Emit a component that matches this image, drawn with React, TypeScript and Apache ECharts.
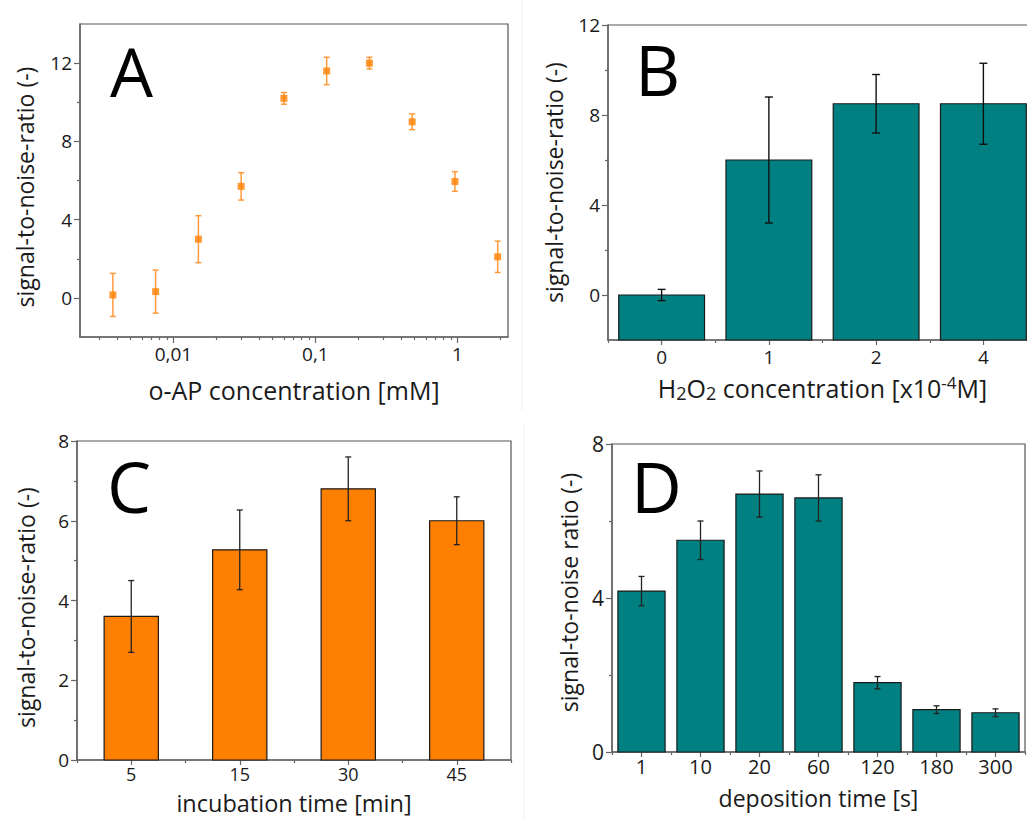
import React, { useEffect, useRef } from 'react';
import * as echarts from 'echarts';

// ---------- Panel A: o-AP concentration (log axis) ----------
const concA = [0.00375, 0.0075, 0.015, 0.03, 0.06, 0.12, 0.24, 0.48, 0.96, 1.92];
const snrA = [0.15, 0.32, 3.0, 5.7, 10.2, 11.6, 12.0, 9.0, 5.95, 2.1];
const errA = [1.1, 1.1, 1.2, 0.7, 0.3, 0.7, 0.3, 0.4, 0.5, 0.8];
const ticksAX = [0.01, 0.1, 1];
const minorTicksAX = [0.003, 0.004, 0.005, 0.006, 0.007, 0.008, 0.009, 0.02, 0.03, 0.04, 0.05, 0.06, 0.07, 0.08, 0.09, 0.2, 0.3, 0.4, 0.5, 0.6, 0.7, 0.8, 0.9, 2];
const ticksAY = [0, 4, 8, 12];
const minorTicksAY = [2, 6, 10];

// ---------- Panel B: H2O2 concentration ----------
const catB = ['0', '1', '2', '4'];
const snrB = [0, 6.0, 8.5, 8.5];
const errB = [0.25, 2.8, 1.3, 1.8];
const ticksBY = [0, 4, 8, 12];
const minorTicksBY = [2, 6, 10];

// ---------- Panel C: incubation time ----------
const catC = ['5', '15', '30', '45'];
const snrC = [3.6, 5.27, 6.8, 6.0];
const errC = [0.9, 1.0, 0.8, 0.6];

// ---------- Panel D: deposition time ----------
const catD = ['1', '10', '20', '60', '120', '180', '300'];
const snrD = [4.18, 5.5, 6.7, 6.6, 1.8, 1.1, 1.02];
const errD = [0.38, 0.5, 0.6, 0.6, 0.16, 0.1, 0.1];

const FONT = "'Open Sans', 'Noto Sans', sans-serif";
const ORANGE = '#FF8000';
const TEAL = '#008080';
const AXIS_COLOR = '#666';
const TEXT_COLOR = '#1a1a1a';

const yMinA = -2, yMaxA = 14;
const yMinB = -2, yMaxB = 12;
const yMinC = 0, yMaxC = 8;
const yMinD = 0, yMaxD = 8;

function axisLineStyle() {
  return { show: true, onZero: false, lineStyle: { color: AXIS_COLOR, width: 1.5 } };
}

function barSeries(xi: number, cats: string[], vals: number[], base: number, color: string, ratio: number) {
  return {
    type: 'custom',
    xAxisIndex: xi,
    yAxisIndex: xi,
    data: vals.map((v, i) => [i, v]),
    renderItem: (params: any, api: any) => {
      const idx = api.value(0);
      const v = api.value(1);
      const p0 = api.coord([idx, base]);
      const p1 = api.coord([idx, v]);
      const bw = api.size([1, 0])[0] * ratio;
      return {
        type: 'rect',
        shape: { x: p1[0] - bw / 2, y: p1[1], width: bw, height: p0[1] - p1[1] },
        style: { fill: color, stroke: '#1a1a1a', lineWidth: 1.2 },
      };
    },
    z: 2,
  };
}

function errSeries(xi: number, xs: any[], vals: number[], errs: number[], color: string, cap: number, width: number) {
  return {
    type: 'custom',
    xAxisIndex: xi,
    yAxisIndex: xi,
    data: vals.map((v, i) => [xs[i], v, errs[i]]),
    renderItem: (params: any, api: any) => {
      const x = api.value(0);
      const v = api.value(1);
      const e = api.value(2);
      const top = api.coord([x, v + e]);
      const bot = api.coord([x, v - e]);
      const st = { stroke: color, lineWidth: width };
      return {
        type: 'group',
        children: [
          { type: 'line', shape: { x1: top[0], y1: top[1], x2: bot[0], y2: bot[1] }, style: st },
          { type: 'line', shape: { x1: top[0] - cap / 2, y1: top[1], x2: top[0] + cap / 2, y2: top[1] }, style: st },
          { type: 'line', shape: { x1: bot[0] - cap / 2, y1: bot[1], x2: bot[0] + cap / 2, y2: bot[1] }, style: st },
        ],
      };
    },
    z: 3,
  };
}

function catXAxes(grid: number, cats: string[], fontSize: number, name: string, nameGap: number, extraName: any = {}, labelMargin = 7) {
  return [
    {
      type: 'category',
      gridIndex: grid,
      position: 'bottom',
      data: cats,
      axisLine: axisLineStyle(),
      axisTick: { show: true, alignWithLabel: true, length: 5, lineStyle: { color: AXIS_COLOR, width: 1.2 } },
      axisLabel: { fontSize, color: TEXT_COLOR, fontFamily: FONT, margin: labelMargin, lineHeight: fontSize },
      splitLine: { show: false },
      name,
      nameLocation: 'middle',
      nameGap,
      nameTextStyle: { fontSize: 24, color: TEXT_COLOR, fontFamily: FONT, ...extraName },
    },
    {
      type: 'category',
      gridIndex: grid,
      position: 'bottom',
      data: cats,
      axisLine: { show: false, onZero: false },
      axisTick: { show: true, alignWithLabel: false, length: 3, lineStyle: { color: AXIS_COLOR, width: 1.2 } },
      axisLabel: { show: false },
      splitLine: { show: false },
    },
  ];
}

function valYAxes(grid: number, min: number, max: number, fontSize: number, name: string, nameGap: number, major: number[] | null, minor: number[] | null, interval: number, namePad: number[]) {
  const main: any = {
    type: 'value',
    gridIndex: grid,
    position: 'left',
    min,
    max,
    axisLine: axisLineStyle(),
    axisTick: { show: true, length: 6, lineStyle: { color: AXIS_COLOR, width: 1.2 } },
    axisLabel: { fontSize, color: TEXT_COLOR, fontFamily: FONT, margin: 8 },
    splitLine: { show: false },
    name,
    nameLocation: 'middle',
    nameGap,
    nameTextStyle: { fontSize: 23, color: TEXT_COLOR, fontFamily: FONT, padding: namePad },
  };
  if (major) {
    main.axisTick.customValues = major;
    main.axisLabel.customValues = major;
  } else {
    main.interval = interval;
    main.minorTick = { show: true, splitNumber: 2, length: 3, lineStyle: { color: AXIS_COLOR, width: 1.2 } };
  }
  const axes: any[] = [main];
  axes.push({
    type: 'value',
    gridIndex: grid,
    position: 'left',
    min,
    max,
    axisLine: { show: false, onZero: false },
    axisTick: minor
      ? { show: true, length: 3, customValues: minor, lineStyle: { color: AXIS_COLOR, width: 1.2 } }
      : { show: false },
    axisLabel: { show: false },
    splitLine: { show: false },
  });
  return axes;
}

const gridBase = { show: true, borderColor: '#555', borderWidth: 1.2, backgroundColor: 'transparent', outerBoundsMode: 'none', containLabel: false };

function fmtLog(v: number) {
  return String(Number(v.toPrecision(3))).replace('.', ',');
}

const option: any = {
  animation: false,
  backgroundColor: '#fff',
  textStyle: { fontFamily: FONT },
  grid: [
    { ...gridBase, left: 80, top: 24, width: 428, height: 313 },
    { ...gridBase, left: 608, top: 25, width: 429, height: 315 },
    { ...gridBase, left: 77, top: 441, width: 434, height: 319 },
    { ...gridBase, left: 612, top: 444, width: 413, height: 308 },
  ],
  xAxis: [
    {
      type: 'log',
      logBase: 10,
      gridIndex: 0,
      position: 'bottom',
      min: 0.0022,
      max: 2.27,
      axisLine: axisLineStyle(),
      axisTick: { show: true, length: 6, customValues: ticksAX, lineStyle: { color: AXIS_COLOR, width: 1.2 } },
      axisLabel: { fontSize: 19, color: TEXT_COLOR, fontFamily: FONT, margin: 7, customValues: ticksAX, formatter: (v: number) => fmtLog(v) },
      splitLine: { show: false },
      name: 'o-AP concentration [mM]',
      nameLocation: 'middle',
      nameGap: 40,
      nameTextStyle: { fontSize: 25, color: TEXT_COLOR, fontFamily: FONT },
    },
    {
      type: 'log',
      logBase: 10,
      gridIndex: 0,
      position: 'bottom',
      min: 0.0022,
      max: 2.27,
      axisLine: { show: false, onZero: false },
      axisTick: { show: true, length: 3, customValues: minorTicksAX, lineStyle: { color: AXIS_COLOR, width: 1.2 } },
      axisLabel: { show: false },
      splitLine: { show: false },
    },
    ...catXAxes(1, catB, 19, 'H{sub|2}O{sub|2} concentration [x10{sup|-4}M]', 34, {
      fontSize: 25,
      lineHeight: 28,
      rich: {
        sub: { fontSize: 18, lineHeight: 10, verticalAlign: 'bottom', fontFamily: FONT, color: TEXT_COLOR },
        sup: { fontSize: 17, lineHeight: 14, verticalAlign: 'top', fontFamily: FONT, color: TEXT_COLOR },
      },
    }),
    ...catXAxes(2, catC, 18, 'incubation time [min]', 31, { fontSize: 23.5, lineHeight: 23 }, 5),
    ...catXAxes(3, catD, 20, 'deposition time [s]', 34, { fontSize: 23, lineHeight: 23 }, 4),
  ],
  yAxis: [
    ...valYAxes(0, yMinA, yMaxA, 19, 'signal-to-noise-ratio (-)', 44, ticksAY, minorTicksAY, 4, [0, 13, 0, 0]),
    ...valYAxes(1, yMinB, yMaxB, 19, 'signal-to-noise-ratio (-)', 43, ticksBY, minorTicksBY, 4, [0, 0, 0, 0]),
    ...valYAxes(2, yMinC, yMaxC, 19, 'signal-to-noise-ratio (-)', 40, null, null, 2, [0, 14, 0, 0]),
    ...valYAxes(3, yMinD, yMaxD, 21, 'signal-to-noise ratio (-)', 32, null, null, 4, [0, 0, 0, 11]),
  ],
  series: [
    errSeries(0, concA, snrA, errA, '#FF9A3C', 6, 1.5),
    {
      type: 'scatter',
      xAxisIndex: 0,
      yAxisIndex: 0,
      data: concA.map((c, i) => [c, snrA[i]]),
      symbol: 'rect',
      symbolSize: 7,
      itemStyle: { color: ORANGE },
      z: 4,
    },
    barSeries(2, catB, snrB, yMinB, TEAL, 0.8),
    errSeries(2, catB.map((_, i) => i), snrB, errB, '#111', 8, 1.4),
    barSeries(4, catC, snrC, yMinC, ORANGE, 0.5),
    errSeries(4, catC.map((_, i) => i), snrC, errC, '#222', 6, 1.3),
    barSeries(6, catD, snrD, yMinD, TEAL, 0.8),
    errSeries(6, catD.map((_, i) => i), snrD, errD, '#222', 6, 1.3),
  ],
  graphic: [
    { type: 'line', shape: { x1: 522, y1: 0, x2: 522, y2: 410 }, style: { stroke: '#efefef', lineWidth: 1 }, silent: true },
    { type: 'line', shape: { x1: 524, y1: 425, x2: 524, y2: 821 }, style: { stroke: '#efefef', lineWidth: 1 }, silent: true },
    { type: 'text', style: { text: 'A', x: 110, y: 70, fontSize: 68, fontFamily: FONT, fill: '#000', align: 'left', verticalAlign: 'middle' }, z: 10 },
    { type: 'text', style: { text: 'B', x: 635, y: 69, fontSize: 70, fontFamily: FONT, fill: '#000', align: 'left', verticalAlign: 'middle' }, z: 10 },
    { type: 'text', style: { text: 'C', x: 107, y: 486, fontSize: 70, fontFamily: FONT, fill: '#000', align: 'left', verticalAlign: 'middle' }, z: 10 },
    { type: 'text', style: { text: 'D', x: 631, y: 486, fontSize: 70, fontFamily: FONT, fill: '#000', align: 'left', verticalAlign: 'middle' }, z: 10 },
  ],
};

export default function App() {
  const ref = useRef<HTMLDivElement>(null);
  useEffect(() => {
    if (!ref.current) return;
    const chart = echarts.init(ref.current, null, { renderer: 'svg' });
    chart.setOption(option);
    return () => {
      chart.dispose();
    };
  }, []);
  return (
    <div
      ref={ref}
      style={{ position: 'absolute', left: 0, top: 0, width: 1027, height: 821, background: '#fff', overflow: 'hidden' }}
    />
  );
}
